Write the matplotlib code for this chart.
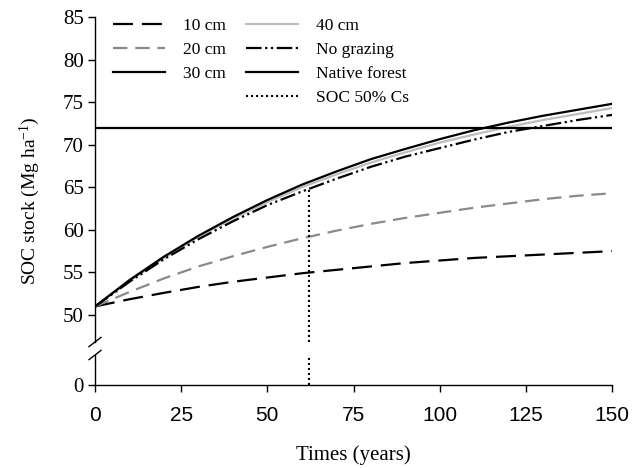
import numpy as np
import matplotlib
matplotlib.use("Agg")
import matplotlib.pyplot as plt
from matplotlib.lines import Line2D

plt.rcParams['font.family'] = ['Liberation Serif', 'DejaVu Serif']
plt.rcParams['mathtext.fontset'] = 'custom'
plt.rcParams['mathtext.rm'] = 'Liberation Serif'
plt.rcParams['mathtext.default'] = 'regular'

# valores (años y stock de SOC en Mg/ha)
years = [0, 10, 20, 30, 40, 50, 60, 70, 80, 90, 100, 110, 120, 130, 140, 150]
soc_10 = [51.0, 51.85, 52.6, 53.3, 53.9, 54.4, 54.9, 55.3, 55.7, 56.1, 56.4, 56.7, 56.9, 57.1, 57.3, 57.5]
soc_20 = [51.0, 52.7, 54.3, 55.7, 56.9, 58.0, 59.0, 59.9, 60.7, 61.4, 62.0, 62.6, 63.1, 63.6, 64.0, 64.3]
soc_30 = [51.0, 54.1, 56.85, 59.3, 61.5, 63.5, 65.3, 66.85, 68.3, 69.5, 70.65, 71.7, 72.6, 73.4, 74.1, 74.8]
soc_40 = [51.0, 54.0, 56.7, 59.2, 61.3, 63.25, 65.0, 66.5, 67.9, 69.1, 70.25, 71.2, 72.1, 72.9, 73.6, 74.3]
soc_nograz = [51.0, 53.9, 56.55, 58.9, 61.0, 62.9, 64.5, 66.0, 67.4, 68.6, 69.6, 70.6, 71.5, 72.2, 72.9, 73.5]
forest_soc = 72.0
t_half = 62
soc_half = 64.8

xticks = [0, 25, 50, 75, 100, 125, 150]
yticks = [0, 50, 55, 60, 65, 70, 75, 80, 85]

# eje y quebrado: 0-50 comprimido
k = 0.1644


def fwd(y):
    y = np.asarray(y, dtype=float)
    return np.where(y >= 50, y, 50 - (50 - y) * k)


def inv(z):
    z = np.asarray(z, dtype=float)
    return np.where(z >= 50, z, 50 - (50 - z) / k)


break_lo, break_hi = 21.4, 30.7

fig = plt.figure(figsize=(6.41, 4.68), dpi=100)
ax = fig.add_axes([0.1482, 0.1774, 0.9548 - 0.1482, 0.9637 - 0.1774])
ax.set_yscale('function', functions=(fwd, inv))

lw = 1.6
ax.plot(years, soc_10, color='black', lw=lw, dashes=(9, 4), label='10 cm')
ax.plot(years, soc_20, color='#8a8a8a', lw=lw, dashes=(6.5, 3.5), label='20 cm')
ax.plot(years, soc_40, color='#bdbdbd', lw=lw, label='40 cm')
ax.plot(years, soc_30, color='black', lw=lw, label='30 cm')
ax.plot(years, soc_nograz, color='black', lw=lw,
        dashes=(7, 1.6, 1, 1.6, 1, 1.6), label='No grazing')
ax.plot([0, 150], [forest_soc, forest_soc], color='black', lw=lw, label='Native forest')
ax.plot([t_half, t_half], [0, break_lo], color='black', lw=1.5, dashes=(1, 1.4))
ax.plot([t_half, t_half], [break_hi, soc_half], color='black', lw=1.5, dashes=(1, 1.4))

ax.set_xlim(0, 150)
ax.set_ylim(0, 85)
ax.set_xticks(xticks)
ax.set_yticks(yticks)
for lab in ax.get_xticklabels():
    lab.set_fontfamily('Liberation Sans')
    lab.set_fontsize(15)
ax.tick_params(axis='y', labelsize=15, direction='out', length=5, width=1, pad=3)
ax.tick_params(axis='x', direction='out', length=5, width=1, pad=10)

ax.spines['top'].set_visible(False)
ax.spines['right'].set_visible(False)
ax.spines['left'].set_visible(False)
ax.spines['bottom'].set_linewidth(1.0)

# eje izquierdo con corte
ytr = ax.get_yaxis_transform()
ax.plot([0, 0], [0, break_lo], color='black', lw=1.0, transform=ytr, clip_on=False)
ax.plot([0, 0], [break_hi, 85], color='black', lw=1.0, transform=ytr, clip_on=False)
for yb in [break_lo, break_hi]:
    ax.plot([-0.0116, 0.0116], [yb - 3.3, yb + 3.3], color='black', lw=1.0,
            transform=ytr, clip_on=False)

ax.set_xlabel('Times (years)', fontsize=15, labelpad=15)
ax.set_ylabel('SOC stock (Mg ha$^{-1}$)', fontsize=14, labelpad=15)

h = {l.get_label(): l for l in ax.get_lines()}
blank = Line2D([], [], color='none')
soc_h = Line2D([], [], color='black', lw=1.5, dashes=(1, 1.4))
handles = [h['10 cm'], h['20 cm'], h['30 cm'], blank,
           h['40 cm'], h['No grazing'], h['Native forest'], soc_h]
labels = ['10 cm', '20 cm', '30 cm', '', '40 cm', 'No grazing', 'Native forest', 'SOC 50% Cs']
ax.legend(handles, labels, ncol=2, loc='upper left', bbox_to_anchor=(0.005, 1.04),
          frameon=False, fontsize=12.5, handlelength=3.0, handletextpad=1.0,
          columnspacing=1.2, labelspacing=0.45)

fig.savefig('out.png', dpi=100)
